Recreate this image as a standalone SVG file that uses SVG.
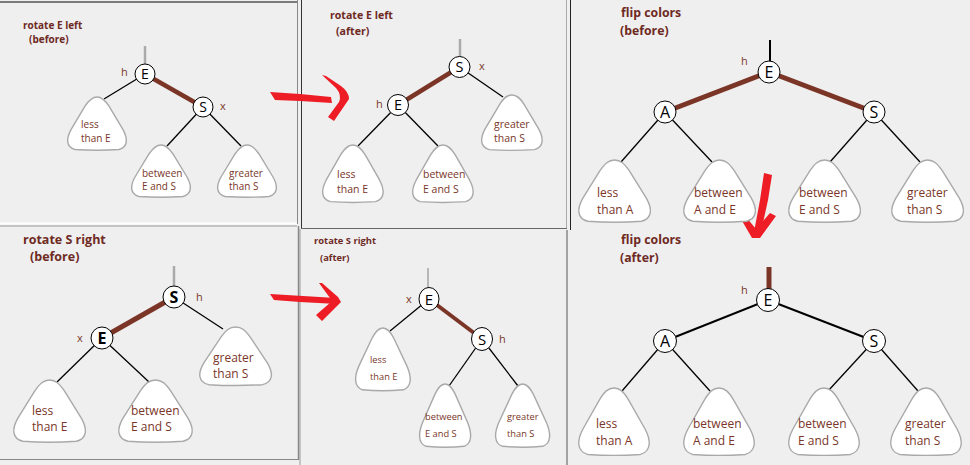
<svg xmlns="http://www.w3.org/2000/svg" xmlns:xlink="http://www.w3.org/1999/xlink" width="970" height="465" viewBox="0 0 970 465">
<style>
.tri{fill:#fff;stroke:#a9a9a9;stroke-width:1.4}
.txt{font-family:"Open Sans","DejaVu Sans",sans-serif;fill:#7a3628}
.ttl{font-family:"Open Sans","DejaVu Sans",sans-serif;font-weight:bold;fill:#6e2a1f}
.nc{fill:#fff;stroke:#000;stroke-width:1}
.key{font-family:"Open Sans","DejaVu Sans",sans-serif;fill:#000;text-anchor:middle}
.red{stroke:#7b3526;stroke-linecap:butt}
.blk{stroke:#000;stroke-width:1.3}
.stub{stroke:#aaa;stroke-width:2.5}
.hand{fill:#ee1c25}
</style>
<defs>
<path id="tri" vector-effect="non-scaling-stroke" d="M30,0 C35,0 38,3 42,9 L56,32 C61,41 61,49 52,51.5 Q30,53 8,51.5 C-1,49 -1,41 4,32 L18,9 C22,3 25,0 30,0 Z"/>
</defs>
<rect width="970" height="465" fill="#efefef"/>
<g id="frames" fill="none">
<line x1="0" y1="2" x2="298" y2="2" stroke="#555" stroke-width="1.5"/>
<line x1="297.5" y1="0" x2="297.5" y2="224" stroke="#888"/>
<line x1="0" y1="223.5" x2="297" y2="223.5" stroke="#fff" stroke-width="2"/>
<line x1="0" y1="226" x2="297" y2="226" stroke="#999"/>
<line x1="301.5" y1="0" x2="301.5" y2="228" stroke="#333"/>
<line x1="301" y1="228.5" x2="567" y2="228.5" stroke="#666"/>
<line x1="566.5" y1="0" x2="566.5" y2="228" stroke="#aaa"/>
<line x1="570.5" y1="0" x2="570.5" y2="230" stroke="#222"/>
<line x1="298.5" y1="226" x2="298.5" y2="460" stroke="#888" stroke-width="1.5"/>
<line x1="0" y1="459.5" x2="298" y2="459.5" stroke="#888"/>
<line x1="300" y1="229" x2="300" y2="465" stroke="#999"/>
<line x1="567" y1="230" x2="567" y2="465" stroke="#888" stroke-width="1.5"/>
</g>
<g id="connectors" fill="none">
<line class="stub" x1="145" y1="46" x2="145" y2="64"/>
<line class="red" stroke-width="4.5" x1="145" y1="74" x2="203" y2="107"/>
<line class="blk" x1="145" y1="74" x2="104" y2="99"/>
<line class="blk" x1="203" y1="107" x2="167" y2="146"/>
<line class="blk" x1="203" y1="107" x2="241" y2="146"/>
<line class="stub" x1="460" y1="39" x2="460" y2="57"/>
<line class="red" stroke-width="4.5" x1="459.5" y1="67" x2="398" y2="105"/>
<line class="blk" x1="459.5" y1="67" x2="503" y2="97"/>
<line class="blk" x1="398" y1="105" x2="358" y2="146"/>
<line class="blk" x1="398" y1="105" x2="438" y2="146"/>
<line stroke="#000" stroke-width="2" x1="770" y1="40" x2="770" y2="62"/>
<line class="red" stroke-width="5" x1="769" y1="72" x2="665" y2="112"/>
<line class="red" stroke-width="5" x1="769" y1="72" x2="874" y2="112"/>
<line class="blk" x1="665" y1="112" x2="621" y2="162"/>
<line class="blk" x1="665" y1="112" x2="712" y2="162"/>
<line class="blk" x1="874" y1="112" x2="830" y2="162"/>
<line class="blk" x1="874" y1="112" x2="920" y2="162"/>
<line class="red" stroke-width="5" x1="769" y1="267" x2="769" y2="290"/>
<line stroke="#000" stroke-width="2" x1="768" y1="300" x2="665" y2="341"/>
<line stroke="#000" stroke-width="2" x1="768" y1="300" x2="874" y2="341"/>
<line class="blk" x1="665" y1="341" x2="622" y2="391"/>
<line class="blk" x1="665" y1="341" x2="710" y2="391"/>
<line class="blk" x1="874" y1="341" x2="828" y2="391"/>
<line class="blk" x1="874" y1="341" x2="918" y2="391"/>
<line class="stub" x1="174" y1="266" x2="174" y2="287"/>
<line class="red" stroke-width="5" x1="174" y1="297" x2="102" y2="338"/>
<line class="blk" x1="174" y1="297" x2="223" y2="329"/>
<line class="blk" x1="102" y1="338" x2="57" y2="382"/>
<line class="blk" x1="102" y1="338" x2="149" y2="382"/>
<line stroke="#999" stroke-width="1.3" x1="428" y1="268" x2="428" y2="289"/>
<line class="red" stroke-width="4" x1="429" y1="299" x2="482" y2="339"/>
<line class="blk" x1="429" y1="299" x2="390" y2="331"/>
<line class="blk" x1="482" y1="339" x2="449" y2="386"/>
<line class="blk" x1="482" y1="339" x2="518" y2="386"/>
</g>
<g id="arrows" class="hand">
<path d="M270,92 L300,94 L331,97 L332,103 L300,101 L275,100 Z"/>
<path d="M322,75 L326,76 L341,86 Q349,92 349,99 L334,121 L328,117 L339,102 Q342,95 336,88 Z"/>
<path d="M270,294 L336,298 L337,304 L300,302 L274,300 Z"/>
<path d="M319,283 L322,283 L338,297 L341,302 L336,307 L322,321 L316,315 L331,302 L330,298 Z"/>
<path d="M764,173 L772,175 L768,200 L761,232 L754,232 L760,200 Z"/>
<path d="M741,219 L746,217 L756,229 L770,213 L776,216 L760,238 L752,238 Z"/>
</g>
<g id="titles" class="ttl">
<text x="23" y="29" font-size="10">rotate E left</text>
<text x="29" y="43" font-size="10">(before)</text>
<text x="330" y="19" font-size="10.6">rotate E left</text>
<text x="336" y="35" font-size="10.6">(after)</text>
<text x="621" y="17" font-size="12.3">flip colors</text>
<text x="620" y="35" font-size="12.3">(before)</text>
<text x="621" y="244" font-size="12.3">flip colors</text>
<text x="620" y="262" font-size="12.3">(after)</text>
<text x="23" y="244" font-size="12.5">rotate S right</text>
<text x="30" y="261" font-size="12.5">(before)</text>
<text x="314" y="244" font-size="9.4">rotate S right</text>
<text x="320" y="261" font-size="9.4">(after)</text>
</g>
<g id="marks" class="txt" font-size="11">
<text x="121" y="76">h</text>
<text x="220" y="110">x</text>
<text x="479" y="70">x</text>
<text x="376" y="108">h</text>
<text x="741" y="65">h</text>
<text x="741" y="294">h</text>
<text x="196" y="301">h</text>
<text x="77" y="342">x</text>
<text x="406" y="303">x</text>
<text x="499" y="343">h</text>
</g>
<g id="p1-E"><circle class="nc" cx="145" cy="74" r="10"/><text class="key" x="145" y="79" font-size="14">E</text></g>
<g id="p1-S"><circle class="nc" cx="203" cy="107" r="10"/><text class="key" x="203" y="112" font-size="14">S</text></g>
<g id="p1-t1"><use href="#tri" class="tri" transform="translate(67,97) scale(1,1.02)"/><text class="txt" font-size="10"><tspan x="81" y="128">less</tspan><tspan x="81" y="142">than E</tspan></text></g>
<g id="p1-t2"><use href="#tri" class="tri" transform="translate(131,145)"/><text class="txt" font-size="10"><tspan x="142" y="177">between</tspan><tspan x="142" y="190">E and S</tspan></text></g>
<g id="p1-t3"><use href="#tri" class="tri" transform="translate(217,145)"/><text class="txt" font-size="10"><tspan x="229" y="177">greater</tspan><tspan x="229" y="190">than S</tspan></text></g>
<g id="p2-S"><circle class="nc" cx="459.5" cy="67" r="10.5"/><text class="key" x="459.5" y="72" font-size="14.5">S</text></g>
<g id="p2-E"><circle class="nc" cx="398" cy="105" r="10.5"/><text class="key" x="398" y="110" font-size="14.5">E</text></g>
<g id="p2-t1"><use href="#tri" class="tri" transform="translate(481,95) scale(1.03,1.06)"/><text class="txt" font-size="10.5"><tspan x="494" y="128">greater</tspan><tspan x="494" y="142">than S</tspan></text></g>
<g id="p2-t2"><use href="#tri" class="tri" transform="translate(322,145) scale(1.03,1.1)"/><text class="txt" font-size="10.5"><tspan x="337" y="178">less</tspan><tspan x="337" y="193">than E</tspan></text></g>
<g id="p2-t3"><use href="#tri" class="tri" transform="translate(412,145) scale(1.03,1.1)"/><text class="txt" font-size="10.5"><tspan x="423" y="178">between</tspan><tspan x="423" y="193">E and S</tspan></text></g>
<g id="p3-E"><circle class="nc" cx="769" cy="72" r="11"/><text class="key" x="769" y="78" font-size="16">E</text></g>
<g id="p3-A"><circle class="nc" cx="665" cy="112" r="11"/><text class="key" x="665" y="118" font-size="16">A</text></g>
<g id="p3-S"><circle class="nc" cx="874" cy="112" r="11"/><text class="key" x="874" y="118" font-size="16">S</text></g>
<g id="p3-t1"><use href="#tri" class="tri" transform="translate(578,160) scale(1.22,1.19)"/><text class="txt" font-size="12"><tspan x="597" y="197">less</tspan><tspan x="597" y="214">than A</tspan></text></g>
<g id="p3-t2"><use href="#tri" class="tri" transform="translate(683,160) scale(1.22,1.19)"/><text class="txt" font-size="12"><tspan x="694" y="197">between</tspan><tspan x="694" y="214">A and E</tspan></text></g>
<g id="p3-t3"><use href="#tri" class="tri" transform="translate(788,160) scale(1.22,1.19)"/><text class="txt" font-size="12"><tspan x="799" y="197">between</tspan><tspan x="799" y="214">E and S</tspan></text></g>
<g id="p3-t4"><use href="#tri" class="tri" transform="translate(891,160) scale(1.22,1.19)"/><text class="txt" font-size="12"><tspan x="907" y="197">greater</tspan><tspan x="907" y="214">than S</tspan></text></g>
<g id="p6-E"><circle class="nc" cx="768" cy="300" r="11.5"/><text class="key" x="768" y="306" font-size="16">E</text></g>
<g id="p6-A"><circle class="nc" cx="665" cy="341" r="11.5"/><text class="key" x="665" y="347" font-size="16">A</text></g>
<g id="p6-S"><circle class="nc" cx="874" cy="341" r="11.5"/><text class="key" x="874" y="347" font-size="16">S</text></g>
<g id="p6-t1"><use href="#tri" class="tri" transform="translate(578,388) scale(1.2,1.29)"/><text class="txt" font-size="12"><tspan x="596" y="428">less</tspan><tspan x="596" y="445">than A</tspan></text></g>
<g id="p6-t2"><use href="#tri" class="tri" transform="translate(683,388) scale(1.2,1.29)"/><text class="txt" font-size="12"><tspan x="693" y="428">between</tspan><tspan x="693" y="445">A and E</tspan></text></g>
<g id="p6-t3"><use href="#tri" class="tri" transform="translate(788,388) scale(1.2,1.29)"/><text class="txt" font-size="12"><tspan x="798" y="428">between</tspan><tspan x="798" y="445">E and S</tspan></text></g>
<g id="p6-t4"><use href="#tri" class="tri" transform="translate(890,388) scale(1.2,1.29)"/><text class="txt" font-size="12"><tspan x="905" y="428">greater</tspan><tspan x="905" y="445">than S</tspan></text></g>
<g id="p4-S"><circle class="nc" cx="174" cy="297" r="11"/><text class="key" x="174" y="303" font-size="16" font-weight="bold">S</text></g>
<g id="p4-E"><circle class="nc" cx="102" cy="338" r="11"/><text class="key" x="102" y="344" font-size="16" font-weight="bold">E</text></g>
<g id="p4-t1"><use href="#tri" class="tri" transform="translate(199,327) scale(1.22,1.12)"/><text class="txt" font-size="12"><tspan x="213" y="362">greater</tspan><tspan x="213" y="378">than S</tspan></text></g>
<g id="p4-t2"><use href="#tri" class="tri" transform="translate(13,380) scale(1.22,1.19)"/><text class="txt" font-size="12"><tspan x="32" y="415">less</tspan><tspan x="32" y="431">than E</tspan></text></g>
<g id="p4-t3"><use href="#tri" class="tri" transform="translate(118,380) scale(1.25,1.19)"/><text class="txt" font-size="12"><tspan x="131" y="415">between</tspan><tspan x="131" y="431">E and S</tspan></text></g>
<g id="p5-E"><ellipse class="nc" cx="429" cy="299" rx="10" ry="11.5"/><text class="key" x="429" y="305" font-size="15">E</text></g>
<g id="p5-S"><ellipse class="nc" cx="482" cy="339" rx="10.5" ry="11.5"/><text class="key" x="482" y="345" font-size="15">S</text></g>
<g id="p5-t1"><use href="#tri" class="tri" transform="translate(355,328) scale(0.93,1.2)"/><text class="txt" font-size="9.3"><tspan x="370" y="363">less</tspan><tspan x="370" y="380">than E</tspan></text></g>
<g id="p5-t2"><use href="#tri" class="tri" transform="translate(419,384) scale(0.87,1.21)"/><text class="txt" font-size="9.3"><tspan x="425" y="420">between</tspan><tspan x="425" y="437">E and S</tspan></text></g>
<g id="p5-t3"><use href="#tri" class="tri" transform="translate(495,384) scale(0.92,1.21)"/><text class="txt" font-size="9.3"><tspan x="507" y="420">greater</tspan><tspan x="507" y="437">than S</tspan></text></g>
</svg>
